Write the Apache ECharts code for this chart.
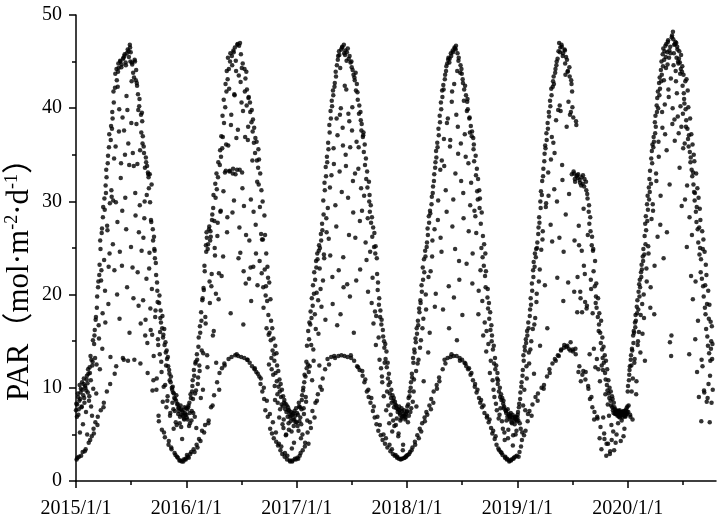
<!DOCTYPE html>
<html>
<head>
<meta charset="utf-8">
<script src="https://cdn.jsdelivr.net/npm/echarts@6/dist/echarts.min.js"></script>
<style>html,body{margin:0;padding:0;background:#fff}#c{width:728px;height:525px}</style>
</head>
<body>
<div id="c"></div>
<script>
// Daily PAR (mol·m-2·d-1). "even" arrays: day-of-year 0,2,4,...; "odd" arrays: day-of-year 1,3,5,...
const xTickLabels = ['2015/1/1','2016/1/1','2017/1/1','2018/1/1','2019/1/1','2020/1/1'];
const yTicks = [0,10,20,30,40,50];

const even2015 = [
7.6,2.3,8.2,9.4,7.1,2.6,10.3,8.8,9.9,7.9,
10.6,3.1,9.2,11.0,8.4,10.2,3.4,9.7,11.3,10.5,
12.0,4.1,9.1,11.6,13.4,8.0,4.8,12.4,15.1,5.6,
14.7,16.2,6.3,17.6,12.5,19.8,6.9,21.4,15.3,23.2,
25.8,7.6,22.6,27.1,18.0,29.4,8.4,30.3,20.4,31.7,
33.4,9.6,26.9,34.9,23.0,37.2,29.8,13.3,38.1,30.5,
39.6,25.4,41.8,34.6,11.5,43.7,29.9,44.2,20.0,42.3,
44.8,37.5,17.4,45.1,32.5,44.4,23.1,39.0,45.3,13.0,
45.6,35.0,44.9,27.0,45.9,39.8,12.9,46.1,33.9,46.8,
45.0,25.1,42.9,44.7,35.2,19.6,43.3,45.2,30.9,43.0,
38.3,42.4,22.4,39.8,26.7,41.0,35.5,16.9,37.4,39.5,
36.2,19.4,35.9,28.2,33.6,17.3,34.2,30.7,14.8,33.1,
32.6,22.8,32.9,18.5,28.0,31.8,15.7,27.0,10.8,26.2,
24.7,17.6,23.4,9.8,21.3,19.2,14.6,6.4,19.9,16.0,
18.3,12.8,5.5,17.7,15.4,10.1,16.3,4.7,14.9,12.4,
14.0,8.6,13.3,3.9,11.9,10.8,7.3,11.2,3.4,9.8,
10.1,7.7,9.4,3.0,8.8,6.3,9.2,2.6,8.3,7.2,
7.9,2.2,6.9,8.1,5.8,2.1,7.6,7.0,2.3,6.6,
7.3,2.4,7.8];
const odd2015 = [
8.3,6.9,2.5,9.0,7.7,8.6,5.2,9.5,2.7,8.0,
9.8,6.1,10.4,8.9,3.2,10.0,7.4,10.9,5.0,9.5,
11.5,8.6,12.2,4.4,10.8,13.0,7.0,12.8,9.9,5.1,
15.6,13.2,17.3,9.4,18.6,6.0,20.8,16.7,22.1,12.0,
24.9,21.5,26.6,14.2,28.3,7.9,23.7,29.1,17.0,30.9,
32.6,27.4,34.1,19.0,35.8,24.4,10.4,36.6,31.2,37.8,
38.9,30.1,40.6,22.6,42.2,35.9,12.3,43.0,27.8,43.9,
44.3,39.9,24.6,45.0,34.1,44.7,29.0,13.2,45.4,37.6,
45.8,30.4,44.6,41.3,20.8,46.3,36.2,45.5,15.9,46.5,
46.0,38.4,44.9,22.9,43.8,33.8,13.0,45.0,28.5,44.1,
42.7,34.0,41.5,18.8,40.2,29.6,12.6,39.3,24.7,38.6,
37.0,26.1,35.2,30.0,15.6,34.7,21.7,33.8,11.6,32.9,
31.4,24.5,29.9,16.2,27.8,20.6,9.7,25.8,13.4,24.9,
23.9,18.3,22.1,11.0,20.4,15.2,7.0,19.1,13.6,17.5,
17.0,11.7,16.4,8.5,15.7,5.2,14.6,10.3,13.8,7.9,
13.1,9.1,12.3,4.3,11.5,7.0,10.6,3.6,10.0,8.4,
9.5,5.6,8.9,7.5,2.8,8.6,6.0,8.2,2.5,7.8,
7.5,6.2,2.2,7.7,7.1,4.5,7.4,2.1,6.7,7.9,
7.1,2.3];

const even2016 = [
7.1,2.8,6.6,7.9,2.5,8.4,6.2,9.3,3.1,7.5,
10.2,8.8,3.4,11.3,6.9,12.6,9.7,3.9,13.0,10.4,
14.4,4.5,11.8,15.9,8.9,17.2,5.4,19.6,13.7,20.5,
23.1,6.0,16.9,24.6,26.1,12.2,25.4,6.5,27.3,19.1,
26.8,7.9,22.2,28.6,15.6,30.7,9.2,25.0,31.9,20.1,
33.0,10.6,27.7,34.2,22.3,11.6,35.5,29.0,37.0,12.1,
39.2,24.1,40.9,12.6,33.1,42.6,36.1,44.0,28.3,45.4,
13.1,42.1,33.3,45.9,38.2,13.3,44.6,33.0,46.2,30.1,
41.4,13.5,45.1,36.8,33.4,46.9,13.4,43.5,27.2,47.0,
42.8,13.3,44.3,31.4,39.7,22.5,13.2,41.8,43.2,26.4,
40.3,13.0,36.6,41.1,21.7,12.7,39.6,30.2,38.5,12.3,
37.5,23.0,36.3,12.0,35.2,27.5,11.7,34.4,21.0,33.6,
31.8,11.2,29.4,10.4,26.5,22.3,9.6,25.9,18.6,8.8,
22.7,7.6,20.9,16.4,19.3,6.9,17.8,12.5,15.9,5.6,
15.1,13.2,5.1,14.0,11.4,4.6,12.9,8.7,11.6,4.2,
10.7,9.3,3.8,10.1,6.8,9.6,3.3,9.0,8.2,2.9,
8.0,5.7,8.4,2.6,7.7,4.9,7.4,2.3,6.9,7.6,
5.5,7.2,2.1,6.4,7.0,3.5,2.2,7.3,5.9,6.6,
2.4,6.3,7.8];
const odd2016 = [
6.8,7.7,2.6,8.1,5.9,7.3,2.9,8.9,6.5,9.6,
10.8,7.3,11.9,3.1,9.4,12.8,5.7,13.6,3.6,11.1,
15.4,12.4,16.6,4.3,18.1,14.0,19.4,9.8,20.7,5.2,
22.5,17.6,25.3,26.7,13.5,24.9,6.2,27.0,21.4,25.8,
26.2,20.9,28.0,8.1,29.3,16.1,27.9,24.2,30.4,12.7,
31.3,26.3,32.6,19.5,9.8,33.9,28.9,34.8,22.0,35.7,
36.9,31.1,38.4,12.4,40.1,33.3,41.8,26.7,43.1,36.0,
44.2,33.2,45.0,18.0,39.3,45.6,28.8,33.5,46.0,41.5,
46.5,32.9,44.0,13.6,46.8,37.7,23.9,46.7,33.4,24.5,
45.8,40.6,33.1,44.8,16.8,29.5,44.2,36.9,21.2,43.9,
42.0,13.0,38.0,41.2,25.8,40.6,22.9,19.3,39.8,34.4,
38.8,28.9,37.9,12.1,36.8,24.4,36.4,32.1,11.5,35.6,
34.5,23.6,33.0,11.0,31.2,25.9,30.0,20.8,10.0,28.5,
26.4,19.9,24.4,8.6,23.0,21.8,15.7,21.3,7.2,19.5,
17.2,12.0,16.4,6.3,15.3,13.6,10.2,14.5,5.2,13.7,
12.4,8.4,11.8,4.0,10.9,7.7,10.4,3.7,9.8,6.1,
9.1,6.6,8.7,3.0,8.3,5.0,8.1,2.7,7.9,6.2,
7.6,2.2,6.8,7.4,5.3,2.1,7.1,6.6,4.1,7.5,
7.0,2.3];

const even2017 = [
6.3,2.5,7.1,5.4,8.0,2.7,6.8,4.6,7.7,9.2,
3.3,10.0,7.2,11.4,4.1,9.0,12.8,14.5,5.2,16.1,
11.7,17.0,6.3,18.2,14.6,19.6,7.5,21.0,12.9,22.4,
17.9,8.4,23.6,20.2,24.4,9.3,15.8,25.3,22.8,10.1,
26.5,18.7,27.6,11.0,30.1,24.3,32.0,12.0,33.7,28.2,
34.8,13.1,36.3,26.0,38.2,31.5,39.7,13.3,40.8,21.9,
41.9,35.7,13.4,42.7,29.6,43.4,38.9,16.7,45.2,13.4,
46.1,33.2,44.3,40.0,13.5,46.5,37.9,24.0,46.8,13.4,
45.7,35.0,42.0,46.0,13.3,30.4,45.3,38.6,19.8,44.9,
13.2,44.4,40.1,32.2,43.6,12.9,43.0,26.1,41.9,36.4,
12.3,40.9,33.5,39.4,11.9,22.7,38.7,37.6,29.0,11.3,
37.1,35.3,10.6,33.9,25.6,32.4,9.6,31.5,20.3,9.0,
30.0,28.9,8.4,27.7,19.1,26.2,7.5,16.9,25.1,6.8,
24.4,14.6,6.1,22.2,20.5,5.4,18.9,13.0,17.6,4.9,
16.8,11.2,4.4,15.5,9.1,14.3,4.0,13.1,7.6,12.2,
3.6,11.0,10.3,6.2,9.4,3.2,8.9,8.4,5.3,2.9,
8.6,7.9,2.7,8.2,6.0,7.8,2.5,7.4,4.8,2.4,
7.6,7.1,2.3,6.7,7.5,2.4,3.9,7.2,2.5,7.0,
6.8,2.6,7.4];
const odd2017 = [
7.3,5.9,2.4,8.4,6.4,7.9,3.0,6.1,8.7,5.0,
9.7,7.8,10.6,3.7,11.2,8.5,12.1,6.5,12.5,4.0,
15.2,12.3,16.8,5.7,17.5,10.8,18.8,14.1,20.1,6.8,
21.6,16.3,22.9,8.6,23.8,19.4,24.7,12.4,25.0,20.6,
25.8,9.8,26.9,21.5,28.6,23.9,31.2,17.3,32.7,26.7,
34.2,29.3,35.6,12.5,37.4,24.2,38.9,32.8,40.2,19.0,
41.4,34.0,42.3,13.2,43.9,27.3,44.6,37.1,45.6,22.6,
45.7,39.3,17.9,46.3,31.0,46.6,36.0,20.8,45.9,42.4,
46.2,33.8,45.1,21.1,46.4,39.4,26.4,45.6,35.8,13.5,
45.0,37.6,44.1,28.8,15.9,43.3,33.0,43.8,21.5,42.6,
41.7,12.2,35.8,40.3,27.9,39.6,31.4,38.3,11.8,36.9,
37.4,30.6,36.1,10.9,34.6,23.7,33.2,28.2,9.8,32.1,
30.7,24.6,29.6,8.9,28.3,21.8,27.2,8.0,26.6,18.2,
25.2,17.7,23.9,6.9,21.3,15.4,19.6,6.0,18.3,12.1,
17.3,10.6,16.2,5.0,15.0,12.7,14.7,4.6,13.9,9.6,
12.7,8.1,11.5,3.9,10.6,7.1,9.8,3.4,9.2,6.5,
8.9,5.9,8.5,2.8,8.1,6.7,2.6,7.7,5.1,8.0,
7.3,6.5,2.4,7.8,6.9,3.3,7.0,7.6,2.5,6.6,
7.2,2.7];

const even2018 = [
7.5,2.8,8.2,7.0,9.1,3.1,10.0,7.8,11.5,3.6,
13.2,9.6,14.1,4.2,15.3,11.8,16.4,4.9,17.2,13.0,
18.5,5.6,19.4,15.1,21.0,6.2,22.9,17.4,23.8,6.8,
24.7,20.0,7.4,25.6,27.1,13.8,28.4,8.1,29.0,22.5,
8.8,30.5,25.8,31.6,9.6,32.9,18.7,34.2,35.4,10.3,
36.3,28.0,37.8,11.1,39.2,33.4,40.6,24.6,41.9,12.0,
42.5,36.7,13.0,43.6,31.2,44.5,38.4,13.2,45.2,20.9,
44.9,35.9,13.3,45.6,40.7,27.3,46.0,13.4,42.6,46.4,
33.0,46.7,13.4,44.0,38.0,45.1,23.6,13.2,43.8,36.2,
44.2,13.0,43.1,30.9,40.8,12.7,42.4,34.8,12.3,39.7,
41.0,12.0,26.8,38.9,37.4,11.4,32.0,37.0,21.2,10.8,
35.6,34.3,10.1,28.4,32.8,9.5,31.1,30.2,17.9,8.9,
29.3,8.4,27.6,25.0,7.9,24.0,15.6,23.1,7.3,22.0,
20.8,13.9,6.8,19.7,18.5,6.3,17.4,11.6,16.2,5.7,
15.0,5.1,14.1,9.8,12.6,4.5,12.0,8.3,3.9,11.0,
10.4,3.5,9.6,7.1,9.0,3.1,8.7,6.4,2.8,8.3,
7.8,5.2,2.5,7.6,7.3,2.3,6.9,4.6,7.2,2.1,
6.6,7.0,2.2,6.3,6.8,3.8,2.4,6.5,6.1,2.6,
6.9,5.4,6.4];
const odd2018 = [
8.0,6.3,8.9,2.9,9.6,7.4,10.6,3.3,11.1,8.5,
12.7,10.9,13.8,3.9,14.9,8.0,15.8,12.6,16.7,4.6,
18.1,14.3,19.1,5.3,20.3,16.4,21.6,10.7,22.4,6.4,
24.1,18.4,25.1,7.1,26.4,21.9,27.7,15.9,28.7,7.7,
29.7,24.1,30.9,8.4,32.2,27.0,33.6,20.1,34.7,9.9,
35.8,30.1,37.1,10.7,38.5,26.1,39.9,34.4,41.2,18.4,
42.0,33.8,43.1,12.6,44.0,28.9,44.8,38.9,45.4,16.4,
45.3,36.6,45.9,13.6,41.8,46.2,30.2,19.7,46.5,24.9,
46.3,39.3,15.1,45.9,35.1,45.4,21.6,12.9,44.6,32.2,
43.7,17.8,42.7,28.2,42.0,37.2,12.6,41.4,23.3,40.7,
39.9,34.1,12.1,39.0,29.6,38.1,11.6,37.5,24.4,36.8,
36.1,29.0,10.4,34.9,26.6,33.5,9.8,32.4,20.4,31.2,
30.3,22.6,8.7,28.8,19.3,26.3,8.1,25.4,17.0,24.4,
22.5,16.1,7.0,20.6,14.7,19.1,6.6,18.1,12.9,16.7,
15.6,10.8,5.4,14.5,9.0,13.2,4.8,12.4,7.6,11.6,
10.8,6.7,3.3,10.0,7.8,9.3,3.0,8.9,5.6,8.6,
8.0,4.4,2.6,7.5,6.5,2.4,7.7,5.5,7.0,2.2,
6.8,7.3,2.3,6.2,7.1,4.9,2.5,6.7,6.9,5.0,
6.6,2.7];

const even2019 = [
6.8,7.4,2.6,8.3,6.2,9.5,3.7,10.6,5.2,11.9,
13.5,4.9,14.4,7.6,15.2,12.3,16.1,6.4,17.0,13.8,
7.5,18.4,19.6,15.0,21.2,8.2,22.6,23.5,16.8,24.4,
9.0,24.9,20.1,25.6,9.4,27.2,28.3,22.7,30.0,31.1,
10.0,32.2,26.8,33.5,10.3,35.1,36.0,29.4,37.3,11.2,
38.4,33.1,39.6,12.0,40.8,27.5,42.1,36.9,12.6,42.9,
43.4,31.3,13.1,44.2,38.7,45.0,21.8,13.5,46.1,47.0,
40.3,46.5,14.0,46.8,33.9,45.6,19.3,14.3,46.3,44.8,
28.6,14.4,45.2,43.9,21.3,14.2,44.4,39.3,14.9,43.0,
32.9,40.1,13.9,33.2,20.3,32.4,14.2,38.6,32.7,18.1,
32.5,11.7,25.3,32.3,20.3,10.7,32.6,18.1,31.9,11.8,
23.1,32.4,19.2,11.7,31.2,18.8,30.3,10.2,28.9,27.6,
8.8,26.8,20.6,25.3,7.9,24.7,22.5,6.6,20.9,12.2,
19.8,18.6,6.9,17.6,12.0,16.8,4.6,15.9,14.8,3.4,
14.1,13.2,6.8,12.7,4.5,11.6,10.9,2.7,10.3,9.7,
4.0,9.4,8.9,2.9,8.6,8.1,4.4,7.9,7.6,7.3,
3.3,7.7,7.4,7.2,5.0,7.5,7.1,7.3,6.9,7.6,
7.0,4.3,7.4,7.2,6.8,7.5,7.1,5.6,7.3,7.0,
7.6,7.2,8.0];
const odd2019 = [
7.1,6.5,7.9,3.1,8.8,5.6,10.1,4.4,11.3,8.1,
12.9,9.8,14.0,5.4,14.8,11.0,15.6,7.2,16.4,12.6,
17.7,14.1,18.9,7.0,20.4,16.3,21.9,11.5,23.0,17.5,
24.0,19.2,25.0,8.6,26.5,21.4,27.7,14.5,29.3,24.8,
30.7,25.9,32.7,9.9,34.3,21.0,35.7,29.8,36.6,16.4,
37.8,30.6,39.1,11.6,40.2,34.5,41.4,25.7,42.3,36.3,
42.6,35.2,43.8,12.9,44.6,30.0,45.3,39.8,13.4,26.1,
46.0,39.7,14.1,46.6,32.3,45.9,24.6,14.6,46.2,43.6,
45.5,38.0,14.5,44.0,40.7,30.8,43.4,14.0,39.6,42.6,
41.8,14.1,39.0,33.0,25.8,32.1,13.6,38.2,32.8,21.9,
32.9,27.4,12.3,32.0,19.6,31.7,24.7,11.4,32.8,29.2,
31.6,22.2,10.9,32.1,18.5,30.8,26.4,9.9,29.6,13.6,
28.3,21.6,9.0,26.2,18.0,24.9,14.2,7.4,23.6,19.1,
21.2,13.1,6.7,19.6,16.1,18.0,10.7,5.8,17.2,12.4,
15.4,11.9,14.4,5.1,13.5,9.3,12.9,4.0,12.0,8.2,
10.8,7.0,10.0,3.2,9.6,6.0,9.1,8.8,5.3,8.4,
7.9,7.2,4.1,7.6,7.3,7.0,6.2,7.5,7.4,6.8,
7.3,7.1,6.5,7.4,7.2,4.8,7.0,7.5,6.9,7.2,
7.8,7.4];

const even2020 = [
9.6,7.4,10.8,11.9,7.1,13.0,12.4,14.2,6.6,15.6,
16.1,12.7,17.0,17.8,9.3,18.7,19.4,15.0,20.3,21.1,
21.6,13.8,22.4,23.2,19.0,24.1,24.9,17.5,26.3,27.6,
28.4,22.8,29.7,30.6,25.2,31.5,32.4,33.3,20.8,34.6,
35.4,36.1,29.0,36.9,17.9,38.5,39.2,33.0,40.3,41.1,
41.8,36.4,42.7,43.3,27.5,44.1,45.0,39.6,45.8,46.4,
43.0,46.1,37.2,45.5,46.9,26.7,44.7,47.3,41.2,46.2,
14.9,45.9,13.4,47.6,38.3,48.2,44.6,46.8,36.5,47.1,
42.9,45.4,46.6,39.1,44.8,45.3,33.6,43.7,44.2,38.0,
43.9,42.4,35.7,41.6,40.5,30.2,39.9,38.7,25.1,37.8,
36.7,35.9,13.6,35.3,34.2,22.0,33.4,32.7,19.5,31.8,
31.0,30.1,15.2,28.9,27.8,11.7,27.0,25.6,9.0,24.3,
25.0,22.4,6.4,21.7,12.3,20.9,19.8,9.5,18.6,17.9,
16.3,8.5,15.5,14.5,10.4,13.7,6.3,12.9,14.2,8.4,
13.1,9.8];
const odd2020 = [
10.2,8.1,11.4,12.3,6.9,13.5,9.6,14.0,11.0,14.8,
15.9,13.1,16.5,17.2,10.7,18.0,14.6,18.4,16.0,19.8,
20.8,17.8,21.9,22.7,15.8,23.6,20.0,24.3,12.9,25.4,
26.9,21.4,27.9,29.1,24.4,30.2,31.0,18.6,31.9,28.1,
34.1,29.7,35.8,36.4,23.1,37.3,38.0,32.2,39.6,26.2,
40.0,34.8,41.4,42.1,30.6,42.9,43.6,37.9,44.5,23.9,
45.2,40.4,46.7,44.3,35.5,46.0,47.1,42.0,45.4,31.8,
46.6,43.2,15.6,47.8,40.0,47.4,45.9,38.8,46.9,44.0,
47.0,41.6,46.3,45.0,37.3,46.1,44.9,40.2,45.7,29.5,
44.5,39.4,43.6,41.0,36.2,42.9,38.0,43.1,31.7,41.9,
40.1,37.1,28.3,38.9,34.7,37.2,26.4,36.1,33.1,35.0,
34.3,30.9,21.4,33.0,29.4,31.4,17.2,30.4,27.2,29.2,
28.0,23.8,13.0,26.8,24.9,25.9,9.7,24.6,21.0,23.2,
22.1,19.0,8.9,20.4,17.4,18.9,11.3,17.1,15.0,16.6,
14.7];

const yearsData = [
  [2015, even2015, odd2015], [2016, even2016, odd2016], [2017, even2017, odd2017],
  [2018, even2018, odd2018], [2019, even2019, odd2019], [2020, even2020, odd2020]
];

function daysIn(y){ return ((y%4===0 && y%100!==0) || y%400===0) ? 366 : 365; }
const points = [];
yearsData.forEach(([yr, ev, od]) => {
  const n = daysIn(yr);
  ev.forEach((v, i) => points.push([yr + (2*i)/n, v]));
  od.forEach((v, i) => points.push([yr + (2*i+1)/n, v]));
});

const serif = '"Liberation Serif","Times New Roman",serif';
const chart = echarts.init(document.getElementById('c'), null, {renderer:'canvas'});
chart.setOption({
  backgroundColor: '#fff',
  animation: false,
  grid: { left: 76, right: 12, top: 15, bottom: 44, containLabel: false },
  xAxis: [{
    type: 'value', min: 2015, max: 2020.8, interval: 1,
    axisLine: { show: true, onZero: false, lineStyle: { color: '#000', width: 1.5 } },
    axisTick: { show: true, length: 7, lineStyle: { color: '#000', width: 1.5 }, customValues: [2015,2016,2017,2018,2019,2020] },
    axisLabel: { color: '#000', fontFamily: serif, fontSize: 20, margin: 18,
      customValues: [2015,2016,2017,2018,2019,2020],
      formatter: v => xTickLabels[Math.round(v) - 2015] || '' },
    splitLine: { show: false }
  },{
    type: 'value', min: 2015, max: 2020.8, interval: 0.5, position: 'bottom',
    axisLine: { show: false },
    axisTick: { show: true, length: 4, lineStyle: { color: '#000', width: 1.5 }, customValues: [2015.5,2016.5,2017.5,2018.5,2019.5,2020.5] },
    axisLabel: { show: false },
    splitLine: { show: false }
  }],
  yAxis: {
    type: 'value', min: 0, max: 50, interval: 10,
    axisLine: { show: true, lineStyle: { color: '#000', width: 1.5 } },
    axisTick: { show: true, length: 7, lineStyle: { color: '#000', width: 1.5 } },
    minorTick: { show: true, splitNumber: 2, length: 4, lineStyle: { color: '#000', width: 1.5 } },
    axisLabel: { color: '#000', fontFamily: serif, fontSize: 20, margin: 14,
      formatter: v => (yTicks.indexOf(v) >= 0 ? String(v) : '') },
    splitLine: { show: false }
  },
  graphic: [{
    type: 'text', x: 20, y: 272, rotation: Math.PI / 2,
    style: {
      text: '{a|PAR（mol·m}{s|-2}{a|·d}{s|-1}{a|）}',
      align: 'center', verticalAlign: 'middle',
      rich: {
        a: { fontFamily: serif + ',"Noto Sans CJK SC"', fontSize: 31, lineHeight: 34, fill: '#000' },
        s: { fontFamily: serif, fontSize: 18, lineHeight: 34, verticalAlign: 'top', padding: [0,0,13,0], fill: '#000' }
      }
    }
  }],
  series: [{
    type: 'scatter', xAxisIndex: 0, data: points,
    symbol: 'circle', symbolSize: 4.5,
    itemStyle: { color: '#000' }
  }]
});
</script>
</body>
</html>
